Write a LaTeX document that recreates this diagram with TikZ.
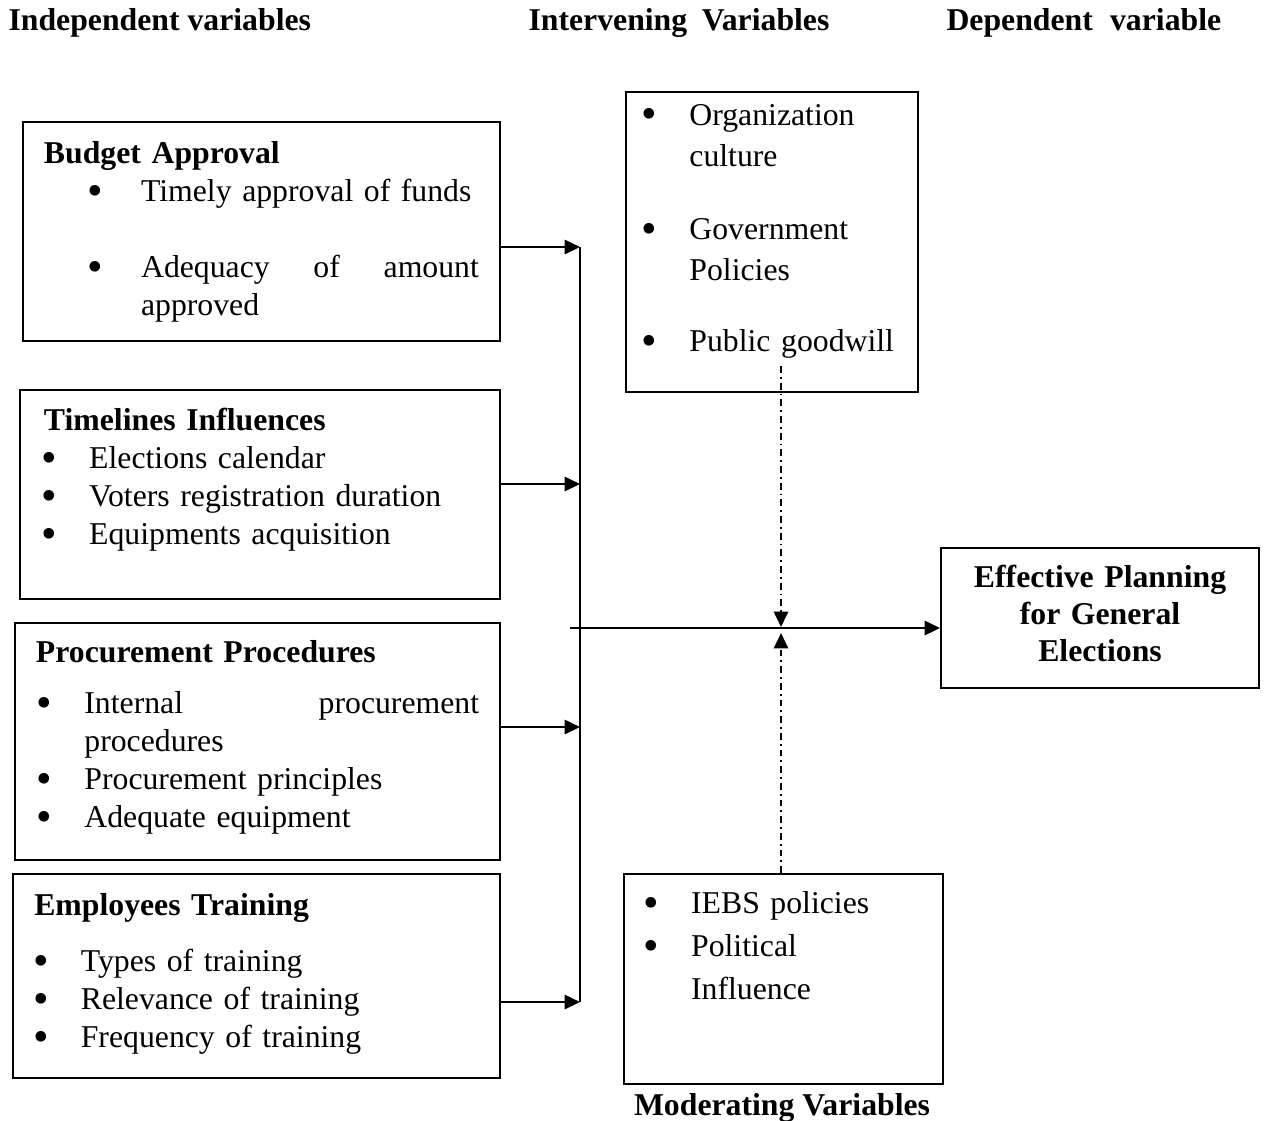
\documentclass[tikz,border=0pt]{standalone}
\usepackage{fontspec}
\setmainfont{Liberation Serif}
\usetikzlibrary{arrows.meta}

% bullet at #1, item text starting at #2
\newcommand{\itm}[2]{\makebox[#2][l]{\hspace*{\dimexpr#1+2.1pt\relax}\makebox[0pt]{\raisebox{-1.5pt}{\scalebox{1.4}{\textbullet}}}}}

\begin{document}
\begin{tikzpicture}[
            x=0.378pt, y=-0.378pt,
            every node/.style={font=\fontsize{12pt}{14.4pt}\selectfont},
            box/.style={draw, line width=0.75pt, rectangle, inner ysep=0pt, align=left, anchor=base west},
            header/.style={font=\fontsize{12pt}{14.4pt}\selectfont\bfseries, inner sep=0pt, anchor=base west},
            link/.style={line width=0.75pt, -{Triangle[length=5.8pt,width=5.4pt]}},
            moddash/.style={line width=0.75pt, dash pattern=on 2.6pt off 1.5pt on 0.7pt off 1.5pt, -{Triangle[length=5.8pt,width=5.4pt]}}
        ]
        \useasboundingbox (0,0) rectangle (1264,1120);

        % Column titles
        \node[header] (indep) at (8,30) {Independent variables};
        \node[header] (intervh) at (528,30) {Intervening\hspace{5.5pt}Variables};
        \node[header] (deph) at (946,30) {Dependent\hspace{6.5pt}variable};

        % Independent variables
        \node[box, text width=164.4pt, inner xsep=7.94pt, text height=15.5pt, text depth=67.3pt] (budget) at (22,163) {\textbf{Budget Approval}\\
        \itm{17.3pt}{36.7pt}Timely approval of funds\\[14.4pt]
        \itm{17.3pt}{36.7pt}Adequacy\hspace{\fill}of\hspace{\fill}amount\\
        \hspace*{36.7pt}approved};
        \node[box, text width=163.3pt, inner xsep=9.07pt, text height=15.1pt, text depth=63.9pt] (timeline) at (19,430) {\textbf{Timelines Influences}\\
        \itm{0pt}{17.1pt}Elections calendar\\
        \itm{0pt}{17.1pt}Voters registration duration\\
        \itm{0pt}{17.1pt}Equipments acquisition};
        \node[box, text width=167.5pt, inner xsep=7.94pt, text height=14.7pt, text depth=74.8pt] (procure) at (14,662) {\textbf{Procurement Procedures}\\[4.9pt]
        \itm{1.06pt}{18.3pt}Internal\hspace{\fill}procurement\\
        \hspace*{18.3pt}procedures\\
        \itm{1.06pt}{18.3pt}Procurement principles\\
        \itm{1.06pt}{18.3pt}Adequate equipment};
        \node[box, text width=168pt, inner xsep=8.05pt, text height=15.5pt, text depth=61.6pt] (training) at (12,915) {\textbf{Employees Training}\\[6.8pt]
        \itm{0.45pt}{17.6pt}Types of training\\
        \itm{0.45pt}{17.6pt}Relevance of training\\
        \itm{0.45pt}{17.6pt}Frequency of training};

        % Intervening and moderating variables
        \node[box, font=\fontsize{12pt}{15.5pt}\selectfont, text width=99pt, inner xsep=5.67pt, text height=12.5pt, text depth=100.9pt] (interv) at (625,125) {\itm{1.06pt}{18.3pt}Organization\\
        \hspace*{18.3pt}culture\\[12.1pt]
        \itm{1.06pt}{18.3pt}Government\\
        \hspace*{18.3pt}Policies\\[11.7pt]
        \itm{1.06pt}{18.3pt}Public goodwill};
        \node[box, font=\fontsize{12pt}{16.3pt}\selectfont, text width=109.2pt, inner xsep=5.67pt, text height=14.7pt, text depth=64.6pt] (moder) at (623,913) {\itm{2.46pt}{19.7pt}IEBS policies\\
        \itm{2.46pt}{19.7pt}Political\\
        \hspace*{19.7pt}Influence};
        \node[header, anchor=base] (moderh) at (782,1115) {Moderating Variables};

        % Dependent variable
        \node[box, align=center, anchor=base, font=\fontsize{12pt}{14pt}\selectfont\bfseries, text width=113.4pt, inner xsep=3.4pt, text height=14.7pt, text depth=38.2pt] (dep) at (1100,587) {Effective Planning\\ for General\\ Elections};

        % Collecting line
        \coordinate (j1) at (580,247);
        \coordinate (j2) at (580,484);
        \coordinate (j3) at (580,727);
        \coordinate (j4) at (580,1002);
        \coordinate (mid) at (570,628);
        \coordinate (hit) at (781,628);
        \coordinate (gw) at (781,366);

        \draw[line width=0.75pt] (j1) -- (j4);
        \draw[link] (budget.east |- j1) -- (j1);
        \draw[link] (timeline.east |- j2) -- (j2);
        \draw[link] (procure.east |- j3) -- (j3);
        \draw[link] (training.east |- j4) -- (j4);
        \draw[link] (mid) -- (mid -| dep.west);

        % Dash-dot influences
        \draw[moddash] (gw) -- ([yshift=0.4pt]hit);
        \draw[moddash] (hit |- moder.north) -- ([yshift=-1.9pt]hit);

\end{tikzpicture}
\end{document}
